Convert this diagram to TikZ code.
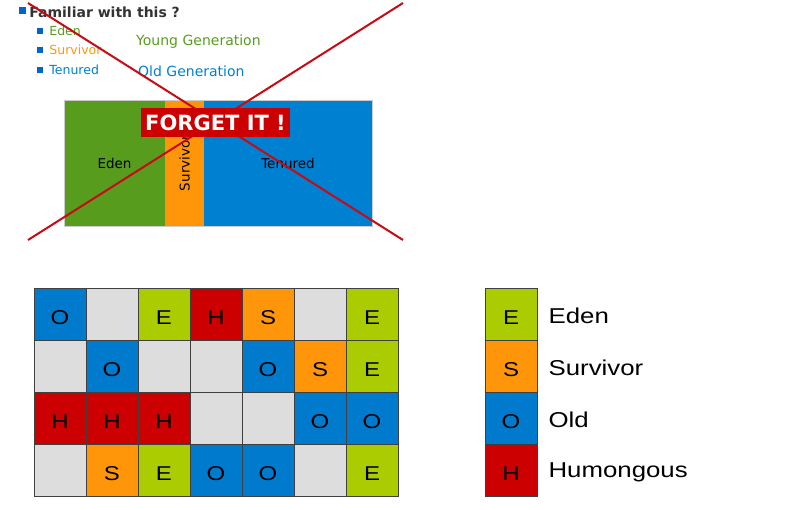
\documentclass[tikz,border=0pt]{standalone}
\usepackage{fontspec}
\setmainfont{DejaVu Sans}
\newfontfamily\keyfont[FakeStretch=1.2]{Liberation Sans}
\usetikzlibrary{positioning}
\definecolor{edengreen}{RGB}{88,156,30}
\definecolor{survorange}{RGB}{255,150,10}
\definecolor{tenblue}{RGB}{0,128,208}
\definecolor{limegreen}{RGB}{170,204,0}
\definecolor{oldblue}{RGB}{0,122,204}
\definecolor{humred}{RGB}{204,0,0}
\definecolor{freegray}{RGB}{221,221,221}
\definecolor{crossred}{RGB}{200,10,20}
\definecolor{bulletblue}{RGB}{0,100,200}
\definecolor{titlegray}{RGB}{51,51,51}

\begin{document}
\begin{tikzpicture}[x=1pt, y=-1pt,
    bullet/.style={rectangle, fill=bulletblue, minimum size=6pt, inner sep=0pt},
    item/.style={inner sep=0pt, font=\fontsize{12.5}{15}\selectfont},
    gen/.style={inner sep=0pt, anchor=west, font=\fontsize{14}{17}\selectfont},
    region/.style={rectangle, inner sep=0pt, outer sep=0pt, minimum height=126pt,
                   font=\fontsize{13.5}{16}\selectfont},
    cell/.style={rectangle, draw=black!75, line width=0.8pt, minimum size=52pt,
                 inner sep=0pt, text height=20pt, text depth=0pt,
                 font=\keyfont\fontsize{20}{24}\selectfont},
    cellE/.style={cell, fill=limegreen, node contents={E}},
    cellS/.style={cell, fill=survorange, node contents={S}},
    cellO/.style={cell, fill=oldblue, node contents={O}},
    cellH/.style={cell, fill=humred, node contents={H}},
    cellX/.style={cell, fill=freegray, node contents={}},
    keytext/.style={inner sep=0pt, font=\keyfont\fontsize{21.5}{25}\selectfont},
    cross/.style={crossred, line width=2pt}
  ]
    \useasboundingbox (0,0) rectangle (786,510);

    % old heap layout
    \node[bullet, minimum size=7pt] (b0) at (22.5,10.5) {};
    \node[right=3pt of b0, inner sep=0pt, text=titlegray, yshift=-1.5pt,
          font=\bfseries\fontsize{14}{17}\selectfont] (title) {Familiar with this ?};
    \node[bullet] (b1) at (40,31) {};
    \node[bullet] (b2) at (40,50) {};
    \node[bullet] (b3) at (40,70) {};
    \node[item, right=6pt of b1, text=edengreen] (edenitem) {Eden};
    \node[item, right=6pt of b2, text=survorange] (survitem) {Survivor};
    \node[item, right=6pt of b3, text=tenblue] (tenitem) {Tenured};
    \node[gen, text=edengreen] (young) at (136,42) {Young Generation};
    \node[gen, text=tenblue] (oldgen) at (138,71) {Old Generation};

    \node[region, fill=edengreen, minimum width=101pt, anchor=north west] (eden) at (64,100) {Eden};
    \node[region, fill=survorange, minimum width=39pt, right=0pt of eden] (surv) {};
    \node[region, fill=tenblue, minimum width=168pt, right=0pt of surv] (ten) {Tenured};
    \node[rotate=90, inner sep=0pt, font=\fontsize{13.5}{16}\selectfont] (survtext) at (surv) {Survivor};
    \draw[black!20] (eden.north west) rectangle (ten.south east);

    \coordinate (xtl) at (28,3);
    \coordinate (xtr) at (403,3);
    \coordinate (xbl) at (28,240);
    \coordinate (xbr) at (403,240);
    \draw[cross] (xtl) -- (xbr);
    \draw[cross] (xtr) -- (xbl);

    \node[fill=humred, text=white, font=\bfseries\fontsize{21}{25}\selectfont,
          minimum width=149pt, minimum height=29pt, inner sep=0pt] (forget)
          at (215.5,122.5) {FORGET IT !};

    % G1 regions
    \foreach \row [count=\r] in {{O,X,E,H,S,X,E},{X,O,X,X,O,S,E},
                                 {H,H,H,X,X,O,O},{X,S,E,O,O,X,E}} {
      \foreach \t [count=\c] in \row {
        \node (g\r\c) at ({8+52*\c},{262+52*\r}) [cell\t];
      }
    }

    % legend
    \node (keyE) at (511,314) [cellE];
    \node (keyS) [cellS, below=-0.8pt of keyE];
    \node (keyO) [cellO, below=-0.8pt of keyS];
    \node (keyH) [cellH, below=-0.8pt of keyO];
    \node[keytext, right=11pt of keyE, yshift=-2pt] (labE) {Eden};
    \node[keytext, right=11pt of keyS, yshift=-2pt] (labS) {Survivor};
    \node[keytext, right=11pt of keyO, yshift=-2pt] (labO) {Old};
    \node[keytext, right=11pt of keyH, yshift=-2pt] (labH) {Humongous};
  \end{tikzpicture}
\end{document}
